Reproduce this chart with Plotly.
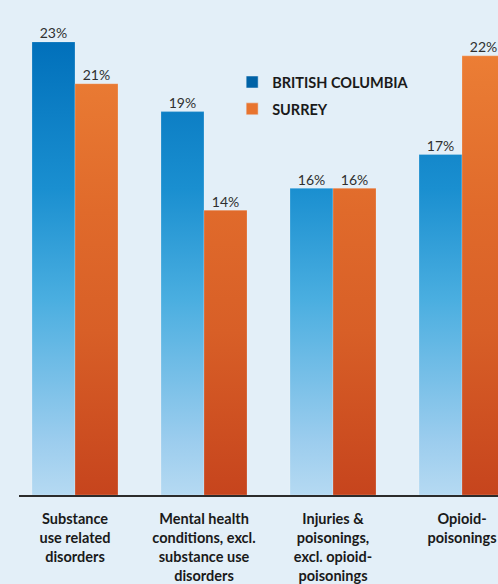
import plotly.graph_objects as go

categories = [
    "Substance<br>use related<br>disorders",
    "Mental health<br>conditions, excl.<br>substance use<br>disorders",
    "Injuries &<br>poisonings,<br>excl. opioid-<br>poisonings",
    "Opioid-<br>poisonings",
]
series_names = ["BRITISH COLUMBIA", "SURREY"]
bc_values = [22.75, 19.25, 15.4, 17.1]
surrey_values = [20.65, 14.3, 15.4, 22.05]
bc_labels = ["23%", "19%", "16%", "17%"]
surrey_labels = ["21%", "14%", "16%", "22%"]

BAR_W = 1 / 3
positions = list(range(len(categories)))

bc_scale = [[0.0, "#b6daf2"], [0.12, "#9ccdee"], [0.43, "#4aaee0"],
            [0.67, "#1a8fd0"], [1.0, "#006fba"]]
sr_scale = [[0.0, "#c6441d"], [0.36, "#d85f27"], [0.62, "#e06a2b"],
            [0.9, "#e97a33"], [1.0, "#ee8036"]]


def bar_polys(vals, offset):
    xs, ys = [], []
    for p, v in zip(positions, vals):
        x0, x1 = p + offset, p + offset + BAR_W
        xs += [x0, x0, x1, x1, x0, None]
        ys += [0, v, v, 0, 0, None]
    return xs, ys


fig = go.Figure()

for vals, labels, off, scale, name, solid in [
    (bc_values, bc_labels, -BAR_W, bc_scale, series_names[0], "#0062a6"),
    (surrey_values, surrey_labels, 0.0, sr_scale, series_names[1], "#e8742f"),
]:
    xs, ys = bar_polys(vals, off)
    fig.add_trace(go.Scatter(
        x=xs, y=ys, mode="lines", fill="toself",
        line=dict(width=0.6, color="rgba(255,255,255,0.35)"),
        fillgradient=dict(type="vertical", colorscale=scale, start=0, stop=23),
        showlegend=False, hoverinfo="skip",
    ))
    fig.add_trace(go.Scatter(
        x=[p + off + BAR_W / 2 for p in positions], y=vals,
        mode="text", text=labels, textposition="top center",
        textfont=dict(family="Lato", size=14, color="#2f2f2f"),
        showlegend=False, hoverinfo="skip",
    ))
    fig.add_trace(go.Bar(
        x=[None], y=[None], name=name, marker=dict(color=solid),
        legendgroup=name, showlegend=True,
    ))

fig.update_layout(
    width=498, height=584,
    margin=dict(l=19, r=0, t=20, b=87),
    paper_bgcolor="#e3eff8",
    plot_bgcolor="rgba(0,0,0,0)",
    showlegend=True,
    legend=dict(
        x=0.445, y=0.903, xanchor="left", yanchor="top",
        bgcolor="rgba(0,0,0,0)",
        font=dict(family="Lato", size=14.5, color="#1a1a1a", weight="bold"),
        tracegroupgap=5, traceorder="grouped", itemwidth=30,
    ),
    xaxis=dict(
        range=[-0.434, 3.279], tickmode="array", tickvals=positions,
        ticktext=categories, showgrid=False, zeroline=False,
        showline=True, linecolor="#2b2b2b", linewidth=1.6,
        ticks="outside", ticklen=10, tickcolor="rgba(0,0,0,0)",
        tickfont=dict(family="Lato", size=14.5, color="#1a1a1a", weight="bold"),
        ticklabeloverflow="allow", fixedrange=True,
    ),
    yaxis=dict(range=[0, 23.85], visible=False, fixedrange=True),
)

fig.write_html(
    "out.html",
    config={"displayModeBar": False},
    post_script="document.body.style.margin='0';document.body.style.overflow='hidden';",
)
